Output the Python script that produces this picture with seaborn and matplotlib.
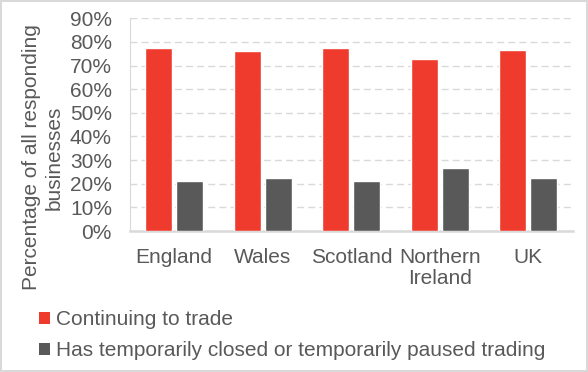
import matplotlib
matplotlib.use("Agg")
import matplotlib.pyplot as plt
import seaborn as sns
import pandas as pd
from matplotlib.ticker import PercentFormatter
from matplotlib.patches import Patch

# values (fractions)
nations = ["England", "Wales", "Scotland", "Northern\nIreland", "UK"]
continuing = [0.772, 0.760, 0.772, 0.727, 0.765]
closed = [0.213, 0.224, 0.213, 0.266, 0.224]
series_names = ["Continuing to trade",
                "Has temporarily closed or temporarily paused trading"]
series_colors = ["#EF3B2D", "#595959"]

df = pd.DataFrame({
    "Nation": nations * 2,
    "Share": continuing + closed,
    "Status": [series_names[0]] * len(nations) + [series_names[1]] * len(nations),
})

sns.set_style("white")
plt.rcParams["font.family"] = ["Liberation Sans", "DejaVu Sans"]
FS = 15

fig = plt.figure(figsize=(5.88, 3.72), dpi=100)
ax = fig.add_axes([0.221, 0.379, 0.753, 0.572])

sns.barplot(data=df, x="Nation", y="Share", hue="Status", order=nations,
            hue_order=series_names, palette=series_colors, width=0.7, gap=0.13,
            saturation=1, ax=ax, legend=False, zorder=3)

ax.set_ylim(0, 0.9)
ax.set_yticks([i / 10 for i in range(10)])
ax.yaxis.set_major_formatter(PercentFormatter(1.0, decimals=0))
ax.set_xlabel("")
ax.set_ylabel("")
ax.grid(axis="y", color="#D9D9D9", linestyle=(0, (5, 3)), linewidth=1, zorder=0)
ax.set_axisbelow(True)
for side in ["top", "right"]:
    ax.spines[side].set_visible(False)
ax.spines["left"].set_color("#D9D9D9")
ax.spines["left"].set_linewidth(0.8)
ax.spines["bottom"].set_color("#D9D9D9")
ax.spines["bottom"].set_linewidth(1.8)
ax.tick_params(axis="both", length=0, labelsize=FS, labelcolor="#595959")
ax.tick_params(axis="y", pad=13)
ax.tick_params(axis="x", pad=12)
ax.set_xlim(-0.5, len(nations) - 0.5)
for lbl in ax.get_xticklabels():
    lbl.set_linespacing(1.15)

fig.text(0.073, 0.577, "Percentage of all responding\nbusinesses", rotation=90,
         ha="center", va="center", multialignment="center", fontsize=FS,
         color="#595959", linespacing=1.2)

handles = [Patch(facecolor=c, edgecolor="none") for c in series_colors]
fig.legend(handles, series_names, loc="upper left", bbox_to_anchor=(0.066, 0.166),
           frameon=False, fontsize=FS, labelcolor="#595959", handlelength=0.53,
           handleheight=0.5, handletextpad=0.29, labelspacing=0.58,
           borderaxespad=0, borderpad=0)

fig.patch.set_edgecolor("#D9D9D9")
fig.patch.set_linewidth(1.5)

fig.savefig("out.png", dpi=100)
